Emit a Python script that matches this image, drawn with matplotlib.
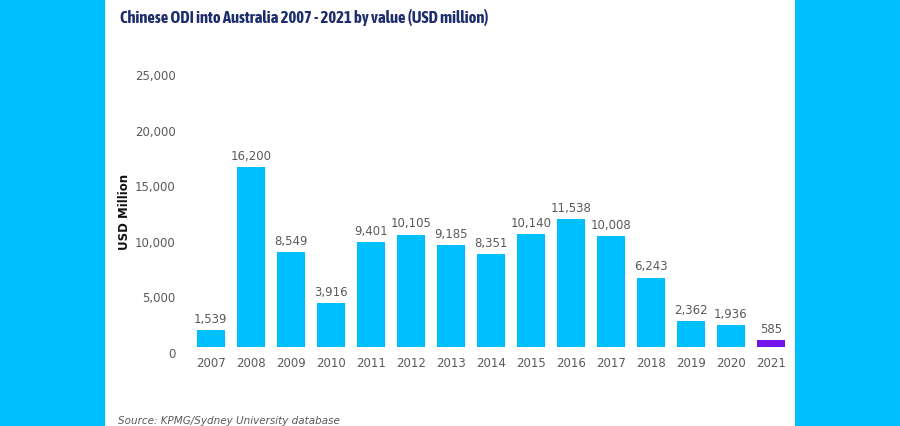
import matplotlib
matplotlib.use("Agg")
import matplotlib.pyplot as plt
import matplotlib.transforms as mtransforms
from matplotlib.patches import Rectangle
from matplotlib import font_manager

years = ["2007", "2008", "2009", "2010", "2011", "2012", "2013", "2014",
         "2015", "2016", "2017", "2018", "2019", "2020", "2021"]
values = [1539, 16200, 8549, 3916, 9401, 10105, 9185, 8351,
          10140, 11538, 10008, 6243, 2362, 1936, 585]
yticks = [0, 5000, 10000, 15000, 20000, 25000]

title = "Chinese ODI into Australia 2007 - 2021 by value (USD million)"
source = "Source: KPMG/Sydney University database"

cyan = "#00BFFF"
purple = "#7213EA"
grey = "#5a5a5a"

# look for a condensed/narrow bold face for the title
cond_family = None
cond_stretch = "normal"
for f in font_manager.fontManager.ttflist:
    nm = f.name.lower()
    if ("narrow" in nm or "condensed" in nm) and f.weight in ("bold", 700, "heavy"):
        cond_family = f.name
        break
if cond_family is None:
    for f in font_manager.fontManager.ttflist:
        if f.stretch in ("condensed", "semi-condensed", "extra-condensed") and f.weight in ("bold", 700):
            cond_family = f.name
            cond_stretch = f.stretch
            break
title_family = [cond_family, "Roboto", "DejaVu Sans"] if cond_family else ["Roboto", "DejaVu Sans"]

fig = plt.figure(figsize=(9, 4.26), dpi=100)
fig.patch.set_facecolor("white")
fig.patches.append(Rectangle((0, 0), 105/900, 1, transform=fig.transFigure,
                             facecolor=cyan, edgecolor="none", zorder=0))
fig.patches.append(Rectangle((795/900, 0), 105/900, 1, transform=fig.transFigure,
                             facecolor=cyan, edgecolor="none", zorder=0))

ax = fig.add_axes([190.8/900, 79/426, 600/900, 278/426])
ax.set_facecolor("none")
x = list(range(len(years)))
colors = [cyan] * (len(years) - 1) + [purple]
ax.bar(x, values, width=0.7, color=colors, zorder=2)
for xi, v in zip(x, values):
    ax.annotate(f"{v:,}", (xi, v), xytext=(0, 3), textcoords="offset points",
                ha="center", va="bottom", fontsize=8.5, color=grey)

ax.set_xlim(-0.5, len(years) - 0.5)
ax.set_ylim(0, 25000)
ax.set_xticks(x)
ax.set_xticklabels(years, fontsize=8.5, color=grey)
ax.set_yticks(yticks)
ax.set_yticklabels([f"{t:,}" for t in yticks], fontsize=8.5, color=grey)
ax.tick_params(axis="both", length=0)
ax.tick_params(axis="x", pad=7)
ax.tick_params(axis="y", pad=11)
off = mtransforms.ScaledTranslation(0, -6/100, fig.dpi_scale_trans)
for lbl in ax.get_yticklabels():
    lbl.set_transform(lbl.get_transform() + off)
for s in ax.spines.values():
    s.set_visible(False)

fig.text(125/900, 1 - 212/426, "USD Million", rotation=90, ha="center", va="center",
         fontsize=8.5, fontweight="bold", color="#111111")

t = fig.text(120/900, 1 - 17/426, title, ha="left", va="center", fontsize=13,
             fontweight="bold", color="#1E2D6B", family=title_family,
             fontstretch=cond_stretch)
# fit title width to the reference (~368 px)
fig.canvas.draw()
r = fig.canvas.get_renderer()
w = t.get_window_extent(r).width
if w > 368:
    t.set_fontsize(13 * 368 / w)

fig.text(118/900, 1 - 421/426, source, ha="left", va="center", fontsize=7.5,
         style="italic", color=grey)

fig.savefig("out.png", dpi=100, facecolor="white")
